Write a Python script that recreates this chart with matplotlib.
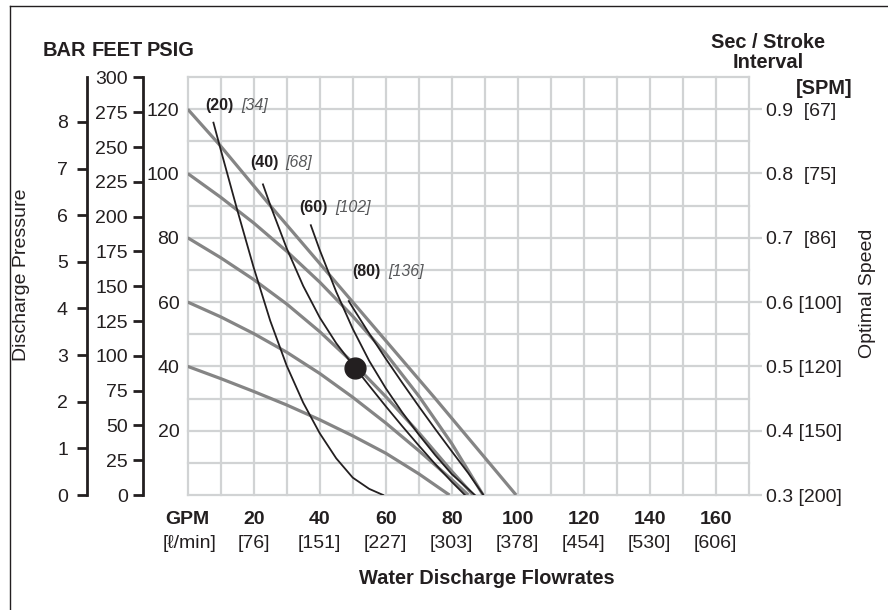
import matplotlib
matplotlib.use("Agg")
import matplotlib.pyplot as plt
import matplotlib.transforms as mtransforms
from matplotlib import font_manager
from matplotlib.lines import Line2D

# condensed look of the original: use the narrow Liberation face if present
try:
    font_manager.findfont("Liberation Sans Narrow", fallback_to_default=False)
    FAMILY, SZ = "Liberation Sans Narrow", 1.14
except ValueError:
    FAMILY, SZ = "Liberation Sans", 1.0
plt.rcParams["font.family"] = [FAMILY, "DejaVu Sans"]

INK = "#231f20"
GREY = "#858585"
GRID = "#d1d3d4"
NOTE = "#58595b"

# grey curves: discharge at a given air inlet pressure (psig)
AIR_120_Q = [0, 10, 25, 50, 75, 99.5]
AIR_120_P = [120, 108.5, 90, 60, 30, 0]
AIR_100_Q = [0, 10, 20, 30, 40, 50, 60, 70, 80, 89.5]
AIR_100_P = [100, 92.6, 84.6, 75.8, 66.2, 55.6, 44.0, 30.8, 16.0, 0]
AIR_80_Q = [0, 10, 20, 30, 40, 50, 60, 70, 80, 86.5]
AIR_80_P = [80, 73.8, 67.0, 59.4, 50.8, 41.2, 30.6, 19.4, 7.4, 0]
AIR_60_Q = [0, 10, 20, 30, 40, 50, 60, 70, 80, 85]
AIR_60_P = [60, 55.4, 50.2, 44.4, 37.8, 30.4, 22.4, 13.8, 4.8, 0]
AIR_40_Q = [0, 10, 20, 30, 40, 50, 60, 70, 79.3]
AIR_40_P = [40, 36.2, 32.2, 28.0, 23.4, 18.4, 13.0, 6.6, 0]

# black curves: air consumption (scfm)
SCFM_20_Q = [7.8, 10, 15, 20, 25, 30, 35, 40, 45, 50, 55, 59.2]
SCFM_20_P = [115.8, 107.4, 88.7, 70.7, 54.2, 40.2, 28.7, 19.2, 11.4, 5.4, 1.9, 0]
SCFM_40_Q = [22.8, 25, 30, 35, 40, 45, 50, 55, 60, 65, 70, 75, 80, 84]
SCFM_40_P = [96.6, 90.2, 76.7, 65.0, 55.2, 47.2, 40.5, 34.0, 27.6, 21.4, 15.4, 9.6, 4.1, 0]
SCFM_60_Q = [37.3, 40, 45, 50, 55, 60, 65, 70, 75, 80, 87]
SCFM_60_P = [83.9, 76.2, 63.2, 51.7, 41.7, 33.2, 25.7, 18.8, 12.4, 6.5, 0]
SCFM_80_Q = [48.8, 50, 55, 60, 65, 70, 75, 80, 85, 89.6]
SCFM_80_P = [60.3, 58.3, 50.2, 42.4, 34.9, 27.6, 20.5, 13.6, 6.8, 0]

SCFM_LABELS = ["(20)", "(40)", "(60)", "(80)"]
NM3_LABELS = ["[34]", "[68]", "[102]", "[136]"]
DOT_Q, DOT_P = 50.8, 39.5

GPM_TICKS = [20, 40, 60, 80, 100, 120, 140, 160]
LPM_LABELS = ["[76]", "[151]", "[227]", "[303]", "[378]", "[454]", "[530]", "[606]"]
PSIG_TICKS = [20, 40, 60, 80, 100, 120]
FEET_TICKS = [0, 25, 50, 75, 100, 125, 150, 175, 200, 225, 250, 275, 300]
BAR_TICKS = [0, 1, 2, 3, 4, 5, 6, 7, 8]
SPEED_TICKS = [0, 20, 40, 60, 80, 100, 120]
SPEED_LABELS = ["0.3 [200]", "0.4 [150]", "0.5 [120]", "0.6 [100]",
                "0.7  [86]", "0.8  [75]", "0.9  [67]"]

PSI_PER_BAR = 14.5038
FT_PER_PSI = 2.31

W, H = 888, 610


def fx(px):
    return px / W


def fy(py):
    return 1 - py / H


fig = plt.figure(figsize=(W / 100, H / 100), dpi=100)

# frame (top and left edges only)
fig.add_artist(Line2D([fx(10), fx(10)], [0, fy(6)], color=INK, lw=1))
fig.add_artist(Line2D([fx(10), 1], [fy(6), fy(6)], color=INK, lw=1))

ax = fig.add_axes([fx(187.7), fy(495), (748.8 - 187.7) / W, (495 - 77) / H])
ax.set_xlim(0, 170)
ax.set_ylim(0, 130)
ax.set_xticks(range(0, 171, 10))
ax.set_yticks(range(0, 131, 10))
ax.set_yticklabels([str(v) if v in PSIG_TICKS else "" for v in range(0, 131, 10)])
ax.grid(True, color=GRID, lw=1.6)
ax.set_axisbelow(True)
for gl in ax.get_xgridlines() + ax.get_ygridlines():
    gl.set_clip_on(False)
ax.tick_params(axis="x", length=0, labelbottom=False)
ax.tick_params(axis="y", length=0, pad=6, labelsize=14 * SZ, labelcolor=INK)
for s in ax.spines.values():
    s.set_visible(False)

for q, p in [(AIR_120_Q, AIR_120_P), (AIR_100_Q, AIR_100_P), (AIR_80_Q, AIR_80_P),
             (AIR_60_Q, AIR_60_P), (AIR_40_Q, AIR_40_P)]:
    ax.plot(q, p, color=GREY, lw=2.3, solid_capstyle="butt", zorder=3)
for q, p in [(SCFM_20_Q, SCFM_20_P), (SCFM_40_Q, SCFM_40_P),
             (SCFM_60_Q, SCFM_60_P), (SCFM_80_Q, SCFM_80_P)]:
    ax.plot(q, p, color=INK, lw=1.3, zorder=4)
ax.plot([DOT_Q], [DOT_P], "o", color=INK, ms=15, zorder=5)

label_pos = [(5.2, 121), (18.9, 103.5), (33.7, 89.3), (49.8, 69.4)]
note_x = [16.1, 29.7, 44.8, 60.8]
for (x, y), a, b, nx in zip(label_pos, SCFM_LABELS, NM3_LABELS, note_x):
    ax.text(x, y, a, fontsize=11.5 * SZ, fontweight="bold", color=INK,
            ha="left", va="center", zorder=6)
    ax.text(nx, y, b, fontsize=11.5 * SZ, style="italic", color=NOTE,
            ha="left", va="center", zorder=6)

# right axis: stroke interval / speed
axr = ax.twinx()
axr.set_ylim(0, 130)
axr.set_yticks(SPEED_TICKS)
axr.set_yticklabels(SPEED_LABELS)
axr.tick_params(axis="y", length=9.5, width=1.6, color=GRID, pad=3,
                labelsize=14 * SZ, labelcolor=INK)
for s in axr.spines.values():
    s.set_visible(False)

# left scales: bar and feet
for xpx, top, ticks, pad in [(87, 130 / PSI_PER_BAR, BAR_TICKS, 6.5),
                             (143, 130 * FT_PER_PSI, FEET_TICKS, 3.6)]:
    a = fig.add_axes([fx(xpx), fy(495), 0.0001, (495 - 77) / H])
    a.set_ylim(0, top)
    a.set_yticks(ticks)
    a.set_xticks([])
    a.patch.set_visible(False)
    for k, s in a.spines.items():
        s.set_visible(k == "left")
    a.spines["left"].set_linewidth(2)
    a.spines["left"].set_color(INK)
    a.tick_params(axis="y", length=7.2, width=2, color=INK, pad=pad,
                  labelsize=14 * SZ, labelcolor=INK)

# bottom labels
tr = mtransforms.blended_transform_factory(ax.transData, fig.transFigure)
ax.text(0, fy(519), "GPM", transform=tr, ha="center", va="center",
        fontsize=14 * SZ, fontweight="bold", color=INK)
ax.text(0.7, fy(543), "[ℓ/min]", transform=tr, ha="center", va="center",
        fontsize=14 * SZ, color=INK)
for g, l in zip(GPM_TICKS, LPM_LABELS):
    ax.text(g, fy(519), str(g), transform=tr, ha="center", va="center",
            fontsize=14 * SZ, fontweight="bold", color=INK)
    ax.text(g, fy(543), l, transform=tr, ha="center", va="center",
            fontsize=14 * SZ, color=INK)
fig.text(fx(487), fy(578), "Water Discharge Flowrates", ha="center", va="center",
         fontsize=14.4 * SZ, fontweight="bold", color=INK)

for xc, word in [(64, "BAR"), (117, "FEET"), (170.5, "PSIG")]:
    fig.text(fx(xc), fy(51), word, ha="center", va="center",
             fontsize=14.4 * SZ, fontweight="bold", color=INK)
fig.text(fx(22), fy(275), "Discharge Pressure", rotation=90, ha="center",
         va="center", fontsize=14 * SZ, color=INK)
fig.text(fx(768), fy(43), "Sec / Stroke", ha="center", va="center",
         fontsize=14.4 * SZ, fontweight="bold", color=INK)
fig.text(fx(768), fy(62), "Interval", ha="center", va="center",
         fontsize=14.4 * SZ, fontweight="bold", color=INK)
fig.text(fx(852), fy(88), "[SPM]", ha="right", va="center",
         fontsize=14.4 * SZ, fontweight="bold", color=INK)
fig.text(fx(867), fy(293), "Optimal Speed", rotation=90, ha="center",
         va="center", fontsize=14 * SZ, color=INK)

fig.savefig("out.png", dpi=100)
